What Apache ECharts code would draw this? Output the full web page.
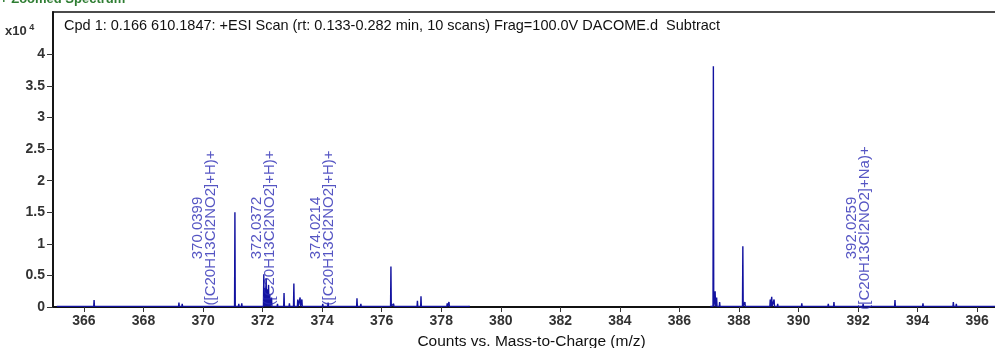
<!DOCTYPE html>
<html>
<head>
<meta charset="utf-8">
<script src="https://cdn.jsdelivr.net/npm/echarts@6/dist/echarts.min.js"></script>
<style>html,body{margin:0;padding:0;background:#fff}#c{width:995px;height:348px}</style>
</head>
<body>
<div id="c"></div>
<script>
// ---- data (intensity in x10^4 counts) ----
const yTicks = [0, 0.5, 1, 1.5, 2, 2.5, 3, 3.5, 4];
const xTicks = [366, 368, 370, 372, 374, 376, 378, 380, 382, 384, 386, 388, 390, 392, 394, 396];
const peaksLow = [
  [365.1,0.02],[365.3,0.03],[365.6,0.02],[365.8,0.02],[366.0,0.03],[366.34,0.11],[366.5,0.03],[366.8,0.02],
  [367.2,0.02],[367.4,0.02],[367.6,0.03],[367.9,0.02],[368.1,0.02],[368.4,0.02],[368.6,0.03],[368.8,0.02],
  [369.0,0.04],[369.19,0.07],[369.3,0.05],[369.6,0.03],[369.8,0.02],[370.04,0.04],[370.3,0.03],[370.6,0.04],
  [370.9,0.03],[371.07,1.50],[371.2,0.05],[371.3,0.06],[371.5,0.03],[371.8,0.04],[372.04,0.52],[372.08,0.30],
  [372.12,0.45],[372.16,0.28],[372.2,0.35],[372.24,0.20],[372.3,0.15],[372.5,0.05],[372.72,0.22],[372.9,0.06],
  [373.05,0.37],[373.18,0.12],[373.26,0.15],[373.32,0.12],[373.5,0.04],[373.8,0.03],[374.02,0.05],[374.2,0.07],
  [374.5,0.04],[374.8,0.03],[375.17,0.14],[375.3,0.05],[375.6,0.03],[376.0,0.04],[376.31,0.64],[376.4,0.05],
  [376.8,0.04],[377.2,0.10],[377.32,0.17],[377.5,0.04],[377.9,0.03],[378.2,0.06],[378.26,0.08],[378.4,0.04],
  [378.73,0.04],[378.95,0.02]
];
const peaksHigh = [
  [387.05,0.02],[387.14,3.81],[387.2,0.25],[387.25,0.15],[387.35,0.08],[387.5,0.04],[387.8,0.03],[388.13,0.96],
  [388.2,0.08],[388.4,0.03],[388.7,0.04],[389.05,0.12],[389.1,0.16],[389.18,0.12],[389.3,0.05],[389.7,0.03],
  [390.11,0.06],[390.3,0.04],[390.6,0.03],[391.0,0.05],[391.19,0.08],[391.3,0.04],[391.7,0.03],[392.03,0.04],
  [392.17,0.05],[392.5,0.03],[392.9,0.04],[393.24,0.11],[393.4,0.04],[393.8,0.03],[394.18,0.06],[394.4,0.03],
  [394.8,0.04],[395.2,0.08],[395.3,0.05],[395.7,0.03],[396.1,0.03],[396.5,0.02],[396.7,0.02]
];
const annotMz = [370.0399, 372.0372, 374.0214, 392.0259];
const annotFormula = ['([C20H13Cl2NO2]+H)+', '([C20H13Cl2NO2]+H)+', '([C20H13Cl2NO2]+H)+', '([C20H13Cl2NO2]+Na)+'];
const baseLevel = 0.01;
const titleText = 'Cpd 1: 0.166 610.1847: +ESI Scan (rt: 0.133-0.282 min, 10 scans) Frag=100.0V DACOME.d  Subtract';
const xTitle = 'Counts vs. Mass-to-Charge (m/z)';

// ---- build stick trace ----
function sticks(list) {
  const out = [];
  list.forEach(([m, h]) => { out.push([m - 0.012, baseLevel], [m, h], [m + 0.012, baseLevel]); });
  return out;
}
const trace = sticks(peaksLow).concat([[null, null]]).concat(sticks(peaksHigh));

const chart = echarts.init(document.getElementById('c'), null, {renderer: 'canvas'});
const font = 'Liberation Sans, Arial, sans-serif';
chart.setOption({
  animation: false,
  backgroundColor: '#fff',
  grid: {left: 53, right: -3, top: 12, bottom: 41, show: true, borderColor: '#111', borderWidth: 1.5,
         outerBoundsMode: 'none', containLabel: false},
  xAxis: {
    type: 'value', min: 364.96, max: 396.7,
    axisLine: {lineStyle: {color: '#111', width: 1.8}},
    axisTick: {show: true, customValues: xTicks, length: 5, lineStyle: {color: '#333'}},
    axisLabel: {customValues: xTicks, color: '#333', fontSize: 14, fontWeight: 'bold', fontFamily: font, margin: 7},
    splitLine: {show: false},
    name: xTitle, nameLocation: 'middle', nameGap: 27,
    nameTextStyle: {color: '#111', fontSize: 15.5, fontFamily: font, padding: [0, 0, 0, 12]}
  },
  yAxis: {
    type: 'value', min: 0, max: 4.67,
    axisLine: {show: true, lineStyle: {color: '#111', width: 1.8}},
    axisTick: {show: true, customValues: yTicks, length: 6, lineStyle: {color: '#333'}},
    axisLabel: {customValues: yTicks, color: '#333', fontSize: 14, fontWeight: 'bold', fontFamily: font, margin: 8},
    splitLine: {show: false}
  },
  graphic: [
    {type: 'text', left: 5, top: 23, style: {text: '{a|x10}{b| 4}', rich: {
      a: {fontSize: 13, fontWeight: 'bold', fill: '#333', fontFamily: font, verticalAlign: 'bottom'},
      b: {fontSize: 9, fontWeight: 'bold', fill: '#333', fontFamily: font, verticalAlign: 'top', padding: [0,0,6,0]}}}},
    {type: 'text', left: 64, top: 18, style: {text: titleText, fontSize: 14.5, fill: '#111', fontFamily: font}},
    {type: 'text', left: 0, top: -7, style: {text: '+ Zoomed Spectrum', fontSize: 13, fontWeight: 'bold', fill: '#2e7d32', fontFamily: font}}
  ],
  series: [
    {type: 'line', data: trace, showSymbol: false, connectNulls: false,
     lineStyle: {color: '#1212a0', width: 1.4}, itemStyle: {color: '#1212a0'}, silent: true, z: 3},
    {type: 'scatter', symbolSize: 0, z: 5,
     data: annotMz.map((m, i) => ({value: [m, 0], formula: annotFormula[i]})),
     label: {show: true, position: 'inside', rotate: 90, align: 'center', verticalAlign: 'middle',
       offset: [79, 0], color: '#2a2ab4', fontSize: 15, lineHeight: 13, fontFamily: font,
       formatter: p => annotMz[p.dataIndex].toFixed(4) + '\n' + annotFormula[p.dataIndex]}}
  ]
});
</script>
</body>
</html>
